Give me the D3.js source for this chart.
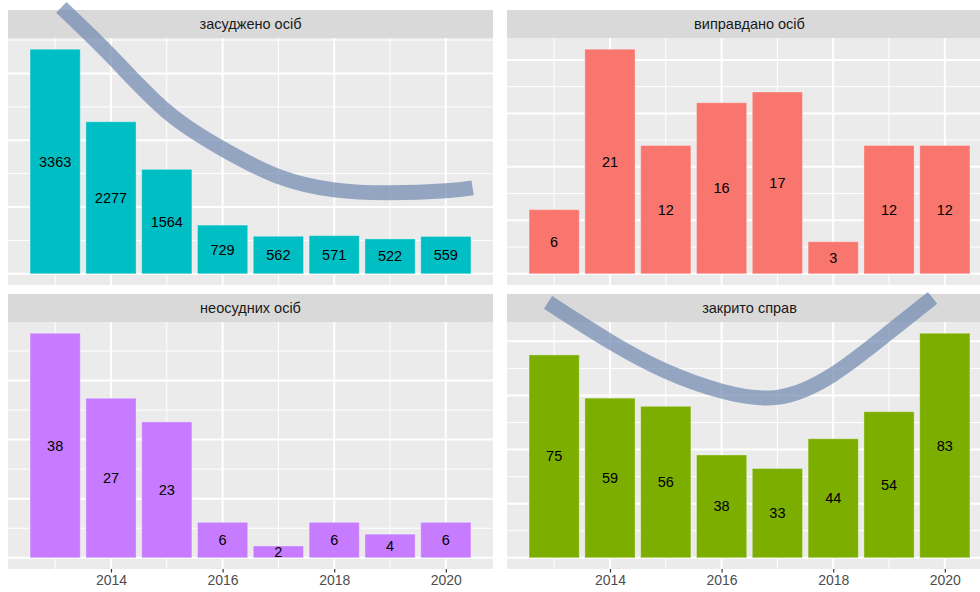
<!DOCTYPE html>
<meta http-equiv="Content-type" content="text/html; charset=UTF-8"/>
<svg width="980" height="592"></svg>
<script src="https://d3js.org/d3.v7.min.js"></script>
<style>
  body { margin: 0; background: #fff; }
  * { font-family: 'Liberation Sans', Arial, sans-serif }
</style>
<script>
// values
var years = [2013, 2014, 2015, 2016, 2017, 2018, 2019, 2020];
var convicted = [3363, 2277, 1564, 729, 562, 571, 522, 559];
var acquitted = [6, 21, 12, 16, 17, 3, 12, 12];
var notConvicted = [38, 27, 23, 6, 2, 6, 4, 6];
var closedCases = [75, 59, 56, 38, 33, 44, 54, 83];
var facetTitles = ["засуджено осіб", "виправдано осіб", "неосудних осіб", "закрито справ"];
var xTicks = [2014, 2016, 2018, 2020];

// trend bands, points (year, value in the facet's units)
var trendConvictedX = [2013.11, 2014.0, 2015.0, 2016.0, 2017.0, 2018.0, 2019.0, 2020.0, 2020.48];
var trendConvictedY = [3990, 3263, 2430, 1871, 1457, 1257, 1213, 1243, 1287];
var trendClosedX = [2012.89, 2014.0, 2015.0, 2016.0, 2017.0, 2018.0, 2019.0, 2019.78];
var trendClosedY = [94.4, 79.9, 69.0, 61.6, 59.3, 67.8, 83.3, 96.1];

var svg = d3.select("svg");

var colLeft = [8, 507], colWidth = 485;
var rows = [{strip: 10, top: 38, bottom: 285}, {strip: 294, top: 322, bottom: 569}];

var facets = [
  {title: facetTitles[0], values: convicted, color: "#00BFC4", col: 0, row: 0, trendX: trendConvictedX, trendY: trendConvictedY},
  {title: facetTitles[1], values: acquitted, color: "#F8766D", col: 1, row: 0},
  {title: facetTitles[2], values: notConvicted, color: "#C77CFF", col: 0, row: 1},
  {title: facetTitles[3], values: closedCases, color: "#7CAE00", col: 1, row: 1, trendX: trendClosedX, trendY: trendClosedY}
];

var barW = 0.9;
var xLo = years[0] - barW / 2, xHi = years[years.length - 1] + barW / 2, xPad = (xHi - xLo) * 0.05;

var trendLayer = [];

facets.forEach(function(f) {
  var x0 = colLeft[f.col], r = rows[f.row];
  var x = d3.scaleLinear().domain([xLo - xPad, xHi + xPad]).range([x0, x0 + colWidth]);
  var ymax = d3.max(f.values);
  var y = d3.scaleLinear().domain([-0.05 * ymax, 1.05 * ymax]).range([r.bottom, r.top]);

  var g = svg.append("g");

  // strip
  g.append("rect")
      .attr("x", x0).attr("y", r.strip)
      .attr("width", colWidth).attr("height", r.top - r.strip)
      .attr("fill", "#D9D9D9");
  g.append("text")
      .attr("x", x0 + colWidth / 2)
      .attr("y", (r.strip + r.top) / 2)
      .attr("dy", "0.35em")
      .attr("text-anchor", "middle")
      .attr("fill", "#1A1A1A")
      .style("font-size", "14.5px")
      .text(f.title);

  // panel
  g.append("rect")
      .attr("x", x0).attr("y", r.top)
      .attr("width", colWidth).attr("height", r.bottom - r.top)
      .attr("fill", "#EBEBEB");

  var major = y.ticks(5).filter(function(t) { return t >= y.domain()[0] && t <= y.domain()[1]; });
  var step = major[1] - major[0];
  var minor = [];
  major.forEach(function(t) { minor.push(t - step / 2); });
  minor.push(major[major.length - 1] + step / 2);
  minor = minor.filter(function(t) { return t > y.domain()[0] && t < y.domain()[1]; });

  var xMinor = [2013, 2015, 2017, 2019];

  g.selectAll(".ymin").data(minor).enter().append("line")
      .attr("x1", x0).attr("x2", x0 + colWidth)
      .attr("y1", y).attr("y2", y)
      .attr("stroke", "#fff").attr("stroke-width", 1);
  g.selectAll(".xmin").data(xMinor).enter().append("line")
      .attr("x1", x).attr("x2", x)
      .attr("y1", r.top).attr("y2", r.bottom)
      .attr("stroke", "#fff").attr("stroke-width", 1);
  g.selectAll(".ymaj").data(major).enter().append("line")
      .attr("x1", x0).attr("x2", x0 + colWidth)
      .attr("y1", y).attr("y2", y)
      .attr("stroke", "#fff").attr("stroke-width", 2);
  g.selectAll(".xmaj").data(xTicks).enter().append("line")
      .attr("x1", x).attr("x2", x)
      .attr("y1", r.top).attr("y2", r.bottom)
      .attr("stroke", "#fff").attr("stroke-width", 2);

  // bars
  var rows_ = years.map(function(yr, i) { return {year: yr, value: f.values[i]}; });
  g.selectAll(".bar").data(rows_).enter().append("rect")
      .attr("x", function(d) { return x(d.year - barW / 2); })
      .attr("width", x(barW) - x(0))
      .attr("y", function(d) { return y(d.value); })
      .attr("height", function(d) { return y(0) - y(d.value); })
      .attr("fill", f.color)
      .attr("stroke", "rgba(255,255,255,0.35)")
      .attr("stroke-width", 1);

  g.selectAll(".lbl").data(rows_).enter().append("text")
      .attr("x", function(d) { return x(d.year); })
      .attr("y", function(d) { return y(d.value / 2); })
      .attr("dy", "0.35em")
      .attr("text-anchor", "middle")
      .attr("fill", "#000")
      .style("font-size", "14.5px")
      .text(function(d) { return d.value; });

  // x axis on bottom row only
  if (f.row === 1) {
    var ax = g.append("g")
        .attr("transform", "translate(0," + r.bottom + ")")
        .call(d3.axisBottom(x).tickValues(xTicks).tickFormat(d3.format("d")).tickSize(3.5).tickPadding(3));
    ax.select(".domain").remove();
    ax.selectAll("line").attr("stroke", "#333").attr("stroke-width", 1.2);
    ax.selectAll("text").attr("fill", "#4D4D4D").style("font-size", "14px");
  }

  if (f.trendX) trendLayer.push({x: x, y: y, pts: f.trendX.map(function(v, i) { return [v, f.trendY[i]]; })});
});

// trend bands drawn last, not clipped to panel
trendLayer.forEach(function(t) {
  var line = d3.line()
      .x(function(d) { return t.x(d[0]); })
      .y(function(d) { return t.y(d[1]); })
      .curve(d3.curveNatural);
  svg.append("path")
      .datum(t.pts)
      .attr("d", line)
      .attr("fill", "none")
      .attr("stroke", "#6F87B0")
      .attr("stroke-opacity", 0.7)
      .attr("stroke-width", 15)
      .attr("stroke-linecap", "butt");
});
</script>
